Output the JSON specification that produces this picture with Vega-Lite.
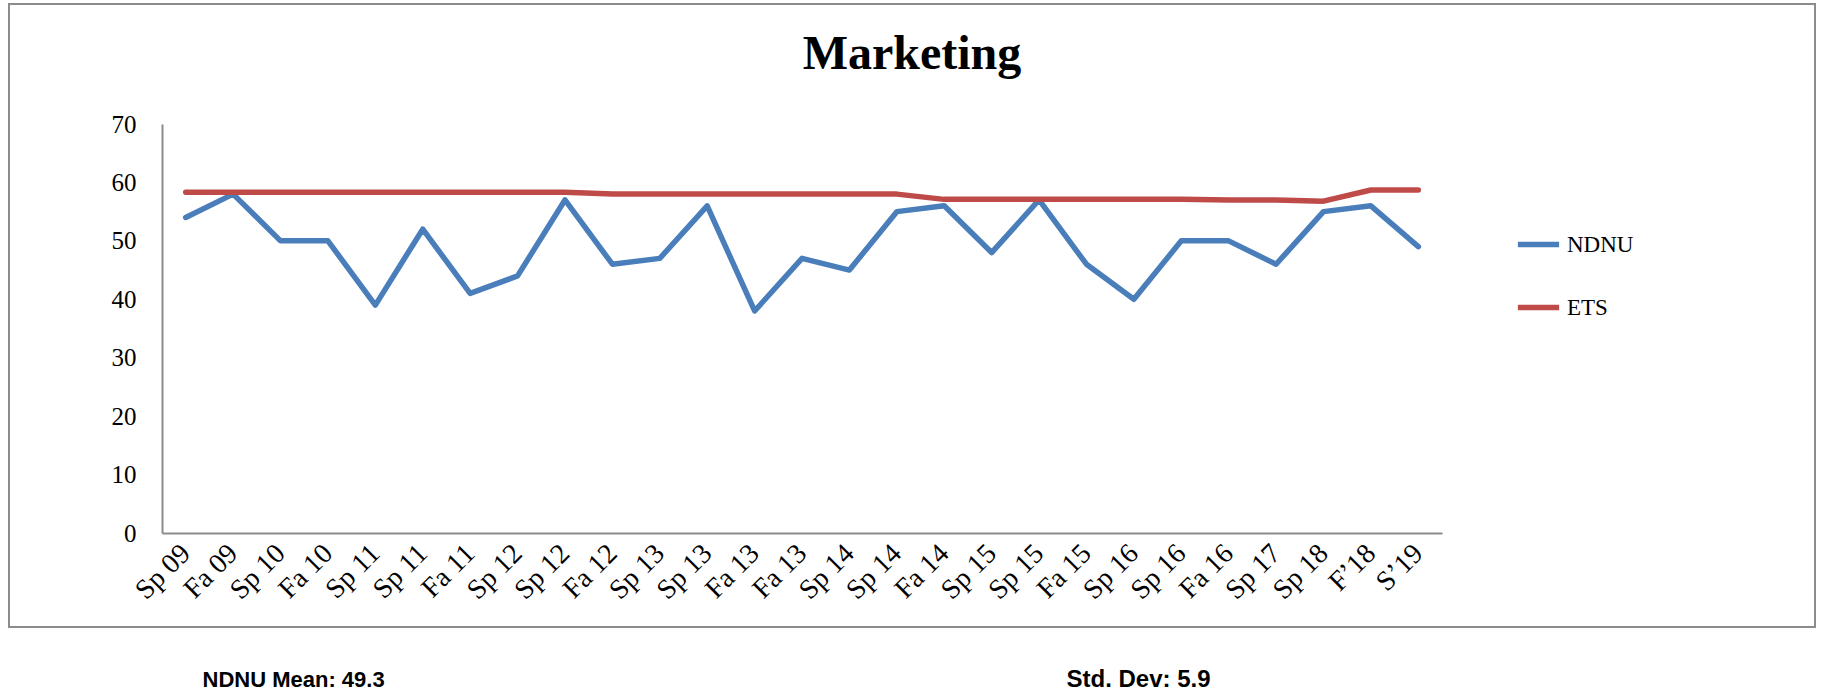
{
  "$schema": "https://vega.github.io/schema/vega-lite/v6.json",
  "autosize": {"type": "none"},
  "width": 1806,
  "height": 623,
  "padding": {"left": 9, "top": 4, "right": 9, "bottom": 68},
  "background": "white",
  "view": {"stroke": "#8c8c8c", "strokeWidth": 2},
  "title": {"text": "Marketing", "font": "Liberation Serif", "fontSize": 48, "fontWeight": "bold", "color": "black", "anchor": "middle", "frame": "group", "baseline": "alphabetic", "offset": -113},
  "data": {"values": [
    {"i": 1, "term": "Sp 09", "series": "NDNU", "value": 54},
    {"i": 2, "term": "Fa 09", "series": "NDNU", "value": 58},
    {"i": 3, "term": "Sp 10", "series": "NDNU", "value": 50},
    {"i": 4, "term": "Fa 10", "series": "NDNU", "value": 50},
    {"i": 5, "term": "Sp 11", "series": "NDNU", "value": 39},
    {"i": 6, "term": "Sp 11", "series": "NDNU", "value": 52},
    {"i": 7, "term": "Fa 11", "series": "NDNU", "value": 41},
    {"i": 8, "term": "Sp 12", "series": "NDNU", "value": 44},
    {"i": 9, "term": "Sp 12", "series": "NDNU", "value": 57},
    {"i": 10, "term": "Fa 12", "series": "NDNU", "value": 46},
    {"i": 11, "term": "Sp 13", "series": "NDNU", "value": 47},
    {"i": 12, "term": "Sp 13", "series": "NDNU", "value": 56},
    {"i": 13, "term": "Fa 13", "series": "NDNU", "value": 38},
    {"i": 14, "term": "Fa 13", "series": "NDNU", "value": 47},
    {"i": 15, "term": "Sp 14", "series": "NDNU", "value": 45},
    {"i": 16, "term": "Sp 14", "series": "NDNU", "value": 55},
    {"i": 17, "term": "Fa 14", "series": "NDNU", "value": 56},
    {"i": 18, "term": "Sp 15", "series": "NDNU", "value": 48},
    {"i": 19, "term": "Sp 15", "series": "NDNU", "value": 57},
    {"i": 20, "term": "Fa 15", "series": "NDNU", "value": 46},
    {"i": 21, "term": "Sp 16", "series": "NDNU", "value": 40},
    {"i": 22, "term": "Sp 16", "series": "NDNU", "value": 50},
    {"i": 23, "term": "Fa 16", "series": "NDNU", "value": 50},
    {"i": 24, "term": "Sp 17", "series": "NDNU", "value": 46},
    {"i": 25, "term": "Sp 18", "series": "NDNU", "value": 55},
    {"i": 26, "term": "F'18", "series": "NDNU", "value": 56},
    {"i": 27, "term": "S'19", "series": "NDNU", "value": 49},
    {"i": 1, "term": "Sp 09", "series": "ETS", "value": 58.3},
    {"i": 2, "term": "Fa 09", "series": "ETS", "value": 58.3},
    {"i": 3, "term": "Sp 10", "series": "ETS", "value": 58.3},
    {"i": 4, "term": "Fa 10", "series": "ETS", "value": 58.3},
    {"i": 5, "term": "Sp 11", "series": "ETS", "value": 58.3},
    {"i": 6, "term": "Sp 11", "series": "ETS", "value": 58.3},
    {"i": 7, "term": "Fa 11", "series": "ETS", "value": 58.3},
    {"i": 8, "term": "Sp 12", "series": "ETS", "value": 58.3},
    {"i": 9, "term": "Sp 12", "series": "ETS", "value": 58.3},
    {"i": 10, "term": "Fa 12", "series": "ETS", "value": 58.0},
    {"i": 11, "term": "Sp 13", "series": "ETS", "value": 58.0},
    {"i": 12, "term": "Sp 13", "series": "ETS", "value": 58.0},
    {"i": 13, "term": "Fa 13", "series": "ETS", "value": 58.0},
    {"i": 14, "term": "Fa 13", "series": "ETS", "value": 58.0},
    {"i": 15, "term": "Sp 14", "series": "ETS", "value": 58.0},
    {"i": 16, "term": "Sp 14", "series": "ETS", "value": 58.0},
    {"i": 17, "term": "Fa 14", "series": "ETS", "value": 57.1},
    {"i": 18, "term": "Sp 15", "series": "ETS", "value": 57.1},
    {"i": 19, "term": "Sp 15", "series": "ETS", "value": 57.1},
    {"i": 20, "term": "Fa 15", "series": "ETS", "value": 57.1},
    {"i": 21, "term": "Sp 16", "series": "ETS", "value": 57.1},
    {"i": 22, "term": "Sp 16", "series": "ETS", "value": 57.1},
    {"i": 23, "term": "Fa 16", "series": "ETS", "value": 57.0},
    {"i": 24, "term": "Sp 17", "series": "ETS", "value": 57.0},
    {"i": 25, "term": "Sp 18", "series": "ETS", "value": 56.8},
    {"i": 26, "term": "F'18", "series": "ETS", "value": 58.7},
    {"i": 27, "term": "S'19", "series": "ETS", "value": 58.7}
  ]},
  "mark": {"type": "line", "strokeWidth": 5.5, "strokeJoin": "round", "strokeCap": "round"},
  "encoding": {
    "x": {
      "field": "i",
      "type": "ordinal",
      "scale": {"type": "point", "range": [153, 1433], "padding": 0.5},
      "axis": {
        "title": "NDNU Mean: 49.3",
        "titleFont": "Liberation Sans",
        "titleFontSize": 22,
        "titleFontWeight": "bold",
        "titleColor": "black",
        "titleX": 193,
        "titleY": 153,
        "titleAlign": "left",
        "titleAnchor": "start",
        "titleBaseline": "alphabetic",
        "offset": -94,
        "domainColor": "#8c8c8c",
        "domainWidth": 2,
        "ticks": false,
        "tickSize": 0,
        "grid": false,
        "labelAngle": -45,
        "labelAlign": "right",
        "labelBaseline": "middle",
        "labelPadding": 16,
        "labelFont": "Liberation Serif",
        "labelFontSize": 28,
        "labelColor": "black",
        "labelOverlap": false,
        "labelExpr": "split('Sp 09|Fa 09|Sp 10|Fa 10|Sp 11|Sp 11|Fa 11|Sp 12|Sp 12|Fa 12|Sp 13|Sp 13|Fa 13|Fa 13|Sp 14|Sp 14|Fa 14|Sp 15|Sp 15|Fa 15|Sp 16|Sp 16|Fa 16|Sp 17|Sp 18|F\\u201918|S\\u201919', '|')[datum.value - 1]"
      }
    },
    "y": {
      "field": "value",
      "type": "quantitative",
      "scale": {"domain": [0, 70], "range": [529, 120], "nice": false},
      "axis": {
        "title": "Std. Dev: 5.9",
        "titleAngle": 0,
        "titleFont": "Liberation Sans",
        "titleFontSize": 24,
        "titleFontWeight": "bold",
        "titleColor": "black",
        "titleX": 904,
        "titleY": 682,
        "titleAlign": "left",
        "titleBaseline": "alphabetic",
        "offset": -153,
        "values": [0, 10, 20, 30, 40, 50, 60, 70],
        "ticks": false,
        "tickSize": 0,
        "grid": false,
        "labelPadding": 26,
        "labelFont": "Liberation Serif",
        "labelFontSize": 25,
        "labelColor": "black",
        "domainColor": "#8c8c8c",
        "domainWidth": 2
      }
    },
    "color": {
      "field": "series",
      "type": "nominal",
      "scale": {"domain": ["NDNU", "ETS"], "range": ["#4A7EBB", "#BE4B48"]},
      "legend": {
        "title": null,
        "orient": "none",
        "legendX": 1506,
        "legendY": 217,
        "padding": 0,
        "symbolType": "stroke",
        "symbolSize": 1700,
        "symbolStrokeWidth": 5.5,
        "labelFont": "Liberation Serif",
        "labelFontSize": 23,
        "labelColor": "black",
        "labelOffset": 5,
        "rowPadding": 27
      }
    }
  }
}
